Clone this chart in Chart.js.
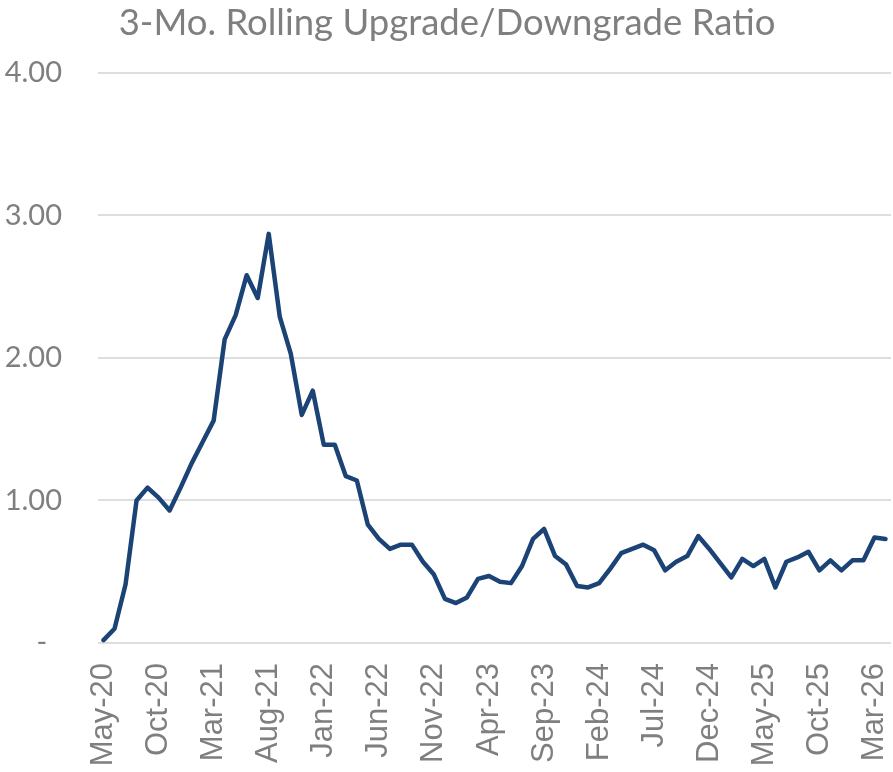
<!DOCTYPE html>
<html>
<head>
<meta charset="utf-8">
<script src="https://cdn.jsdelivr.net/npm/chart.js@4.4.1/dist/chart.umd.min.js"></script>
<style>
  body { margin: 0; background: #ffffff; }
  #wrap { width: 893px; height: 772px; }
</style>
</head>
<body>
<div id="wrap"><canvas id="myChart" width="893" height="772"></canvas></div>
<script>
// month labels, May-20 .. Apr-26
const months = [
  'May-20','Jun-20','Jul-20','Aug-20','Sep-20','Oct-20','Nov-20','Dec-20',
  'Jan-21','Feb-21','Mar-21','Apr-21','May-21','Jun-21','Jul-21','Aug-21','Sep-21','Oct-21','Nov-21','Dec-21',
  'Jan-22','Feb-22','Mar-22','Apr-22','May-22','Jun-22','Jul-22','Aug-22','Sep-22','Oct-22','Nov-22','Dec-22',
  'Jan-23','Feb-23','Mar-23','Apr-23','May-23','Jun-23','Jul-23','Aug-23','Sep-23','Oct-23','Nov-23','Dec-23',
  'Jan-24','Feb-24','Mar-24','Apr-24','May-24','Jun-24','Jul-24','Aug-24','Sep-24','Oct-24','Nov-24','Dec-24',
  'Jan-25','Feb-25','Mar-25','Apr-25','May-25','Jun-25','Jul-25','Aug-25','Sep-25','Oct-25','Nov-25','Dec-25',
  'Jan-26','Feb-26','Mar-26','Apr-26'
]

// 3-month rolling upgrade/downgrade ratio
const ratio = [
  0.02, 0.10, 0.41, 1.00, 1.09, 1.02, 0.93, 1.09,
  1.26, 1.41, 1.56, 2.13, 2.30, 2.58, 2.42, 2.87, 2.29, 2.03, 1.60, 1.77,
  1.39, 1.39, 1.17, 1.14, 0.83, 0.73, 0.66, 0.69, 0.69, 0.57, 0.48, 0.31,
  0.28, 0.32, 0.45, 0.47, 0.43, 0.42, 0.54, 0.73, 0.80, 0.61, 0.55, 0.40,
  0.39, 0.42, 0.52, 0.63, 0.66, 0.69, 0.65, 0.51, 0.57, 0.61, 0.75, 0.66,
  0.56, 0.46, 0.59, 0.54, 0.59, 0.39, 0.57, 0.60, 0.64, 0.51, 0.58, 0.51,
  0.58, 0.58, 0.74, 0.73
]

const yTickLabels = ['-  ', '1.00', '2.00', '3.00', '4.00']
const labelEvery = 5   // one x label every 5 months

const gray = '#7f7f7f'

const ctx = document.getElementById('myChart').getContext('2d')
const myChart = new Chart(ctx, {
  type: 'line',
  data: {
    labels: months,
    datasets: [{
      label: '3-Mo. Rolling Upgrade/Downgrade Ratio',
      data: ratio,
      borderColor: '#1b4375',
      borderWidth: 4.5,
      pointRadius: 0,
      tension: 0,
      borderJoinStyle: 'round',
      borderCapStyle: 'round',
      fill: false
    }]
  },
  options: {
    responsive: false,
    animation: false,
    layout: { padding: { left: 3, right: 2, top: 0, bottom: 0 } },
    plugins: {
      legend: { display: false },
      tooltip: { enabled: false },
      title: {
        display: true,
        text: '3-Mo. Rolling Upgrade/Downgrade Ratio',
        color: gray,
        font: { family: 'Lato', size: 36.5, weight: 'normal', lineHeight: 1.2 },
        padding: { top: 1, bottom: 28 }
      }
    },
    scales: {
      x: {
        offset: true,
        grid: { display: false, drawTicks: false },
        border: { display: false },
        ticks: {
          autoSkip: false,
          maxRotation: 90,
          minRotation: 90,
          padding: 20,
          color: gray,
          font: { family: 'Liberation Sans', size: 31 },
          callback: function (val, index) {
            return index % labelEvery === 0 ? months[index] : ''
          }
        },
        afterFit: function (scale) {
          // room under the plot for the rotated month labels
          scale.height = 129
          scale.paddingLeft = 0
          scale.paddingRight = 0
        }
      },
      y: {
        min: 0,
        max: 4,
        grid: { color: '#dedede', lineWidth: 2, drawTicks: false },
        border: { display: false },
        ticks: {
          stepSize: 1,
          padding: 36,
          color: gray,
          font: { family: 'Lato', size: 29 },
          callback: function (val, index) {
            return yTickLabels[index]
          }
        },
        afterFit: function (scale) {
          scale.width = 95
        }
      }
    }
  }
})
</script>
</body>
</html>
